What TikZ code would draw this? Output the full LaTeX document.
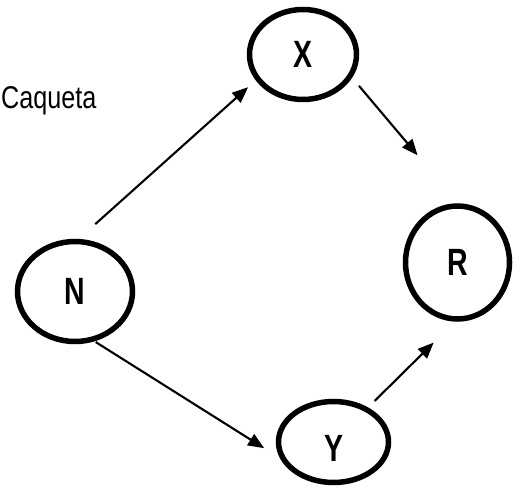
\documentclass[tikz,border=0pt]{standalone}
\usepackage{fontspec}
\setmainfont{Liberation Sans}[FakeStretch=0.8]
\newfontfamily\varfont{Liberation Sans}[FakeStretch=0.75]
\usetikzlibrary{shapes.geometric,arrows.meta}
\tikzset{
  var/.style={ellipse, draw=black, line width=5.5pt, outer sep=0pt, inner sep=0pt,
    font=\varfont\fontsize{38}{40}\selectfont\bfseries},
  arr/.style={line width=2.1pt, -{Triangle[length=16pt,width=13pt]}},
}
\begin{document}
\begin{tikzpicture}[x=1pt,y=1pt]
\useasboundingbox (0,0) rectangle (513,495);
\node[var, minimum width=107pt, minimum height=90pt] (X) at (303,440.5) {X};
\node[var, minimum width=115pt, minimum height=100pt] (N) at (75,203.5) {N};
\node[var, minimum width=104pt, minimum height=113pt] (R) at (457.5,232.5) {R};
\node[var, minimum width=110pt, minimum height=81pt, text height=39pt] (Y) at (333.5,53) {Y};
\node[anchor=base west, inner sep=0pt, font=\fontsize{31.5}{36}\selectfont] (C) at (1,386) {Caqueta};
\draw[arr, shorten <=26pt, shorten >=13pt] (N.89) -- (X.208);
\draw[arr, shorten <=13.5pt, shorten >=66.5pt] (X.336) -- (R.87);
\draw[arr, shorten <=5pt, shorten >=25pt] (N.289) -- (Y.202);
\draw[arr, shorten <=12pt, shorten >=33.5pt] (Y.45) -- (R.270);
\end{tikzpicture}
\end{document}
